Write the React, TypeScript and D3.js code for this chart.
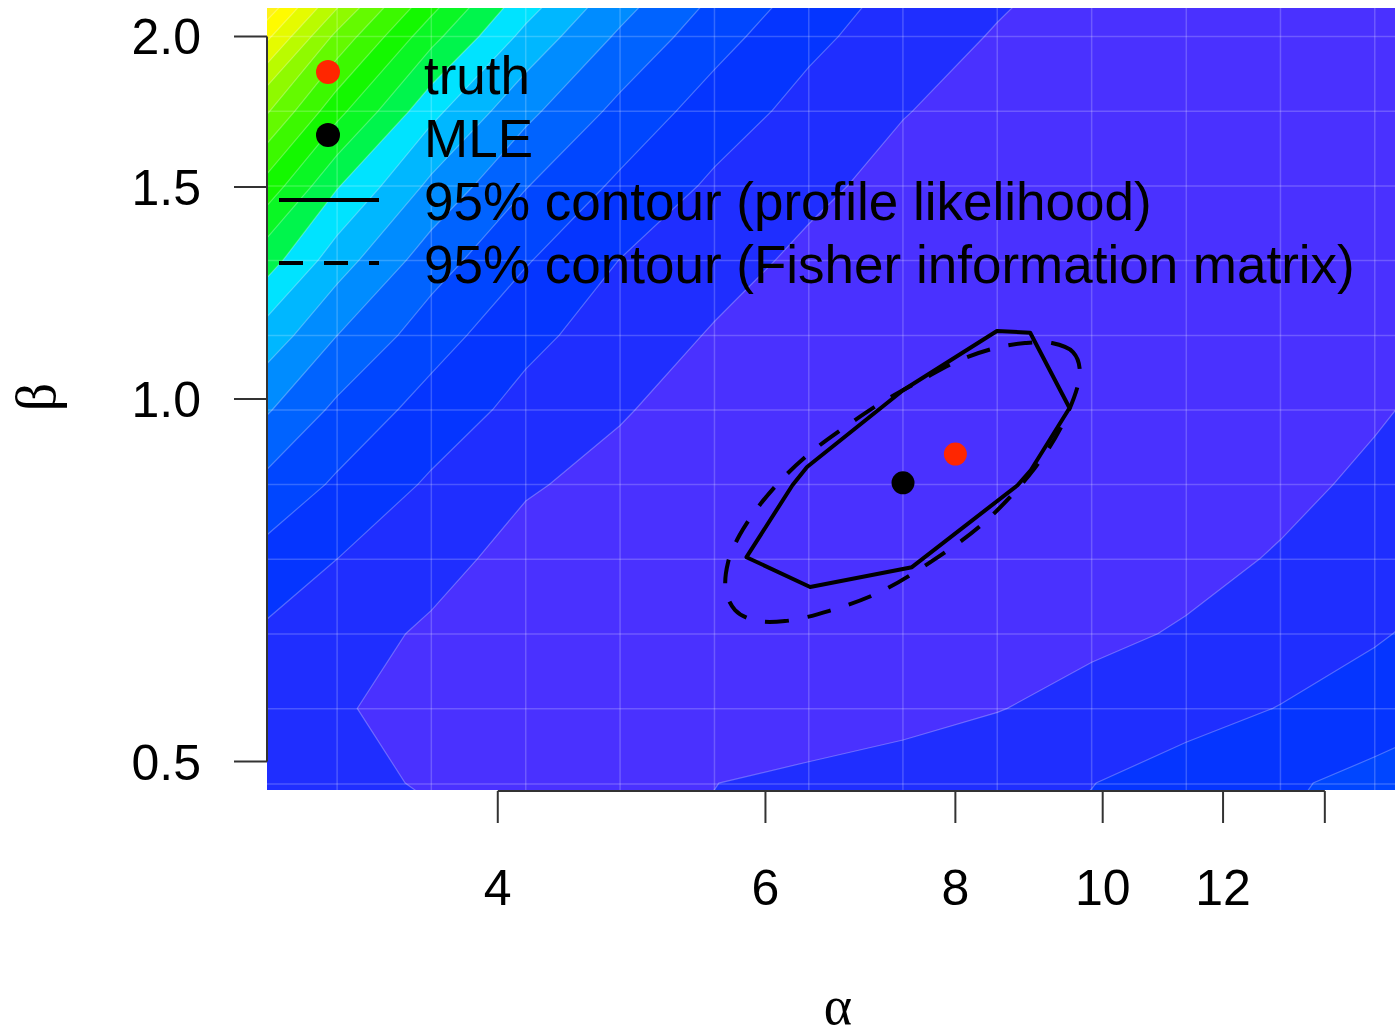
import React, { useEffect, useRef } from "react";
import * as d3 from "d3";

// log-spaced grid the surface was evaluated on
const alphaGrid = [2.718, 3.136, 3.617, 4.173, 4.814, 5.554, 6.407, 7.389, 8.524, 9.834, 11.35, 13.09, 15.1, 17.42];
const betaGrid = [2.307, 2.0, 1.734, 1.503, 1.303, 1.129, 0.979, 0.849, 0.736, 0.638, 0.553, 0.479, 0.416];

// contour level (in band units) at each grid node, rows = beta from top to bottom
const levelRows = [
  [21.8, 16.15, 11.8, 8.5, 6.2, 4.4, 3.06, 1.96, 1.34, 0.82, 0.54, 0.37, 0.32, 0.36],
  [17.44, 12.72, 9.32, 6.7, 4.83, 3.39, 2.23, 1.5, 0.92, 0.58, 0.36, 0.27, 0.28, 0.39],
  [14.08, 10.32, 7.28, 5.26, 3.72, 2.51, 1.67, 1.04, 0.64, 0.38, 0.24, 0.22, 0.3, 0.47],
  [11.52, 8.08, 5.77, 4.05, 2.8, 1.83, 1.21, 0.7, 0.41, 0.23, 0.17, 0.22, 0.37, 0.62],
  [9.14, 6.46, 4.47, 3.08, 1.98, 1.36, 0.8, 0.44, 0.22, 0.14, 0.155, 0.27, 0.5, 0.83],
  [7.18, 5.01, 3.45, 2.26, 1.53, 0.92, 0.51, 0.24, 0.11, 0.1, 0.19, 0.38, 0.67, 1.07],
  [5.56, 3.78, 2.57, 1.69, 1.08, 0.58, 0.26, 0.105, 0.065, 0.13, 0.29, 0.54, 0.9, 1.35],
  [4.13, 2.84, 1.86, 1.1, 0.7, 0.34, 0.13, 0.05, 0.1, 0.24, 0.46, 0.77, 1.18, 1.66],
  [2.95, 2.0, 1.33, 0.65, 0.46, 0.22, 0.12, 0.125, 0.24, 0.43, 0.72, 1.08, 1.53, 1.96],
  [2.05, 1.4, 0.85, 0.66, 0.41, 0.28, 0.25, 0.35, 0.52, 0.79, 1.09, 1.5, 1.91, 2.38],
  [1.75, 1.06, 0.78, 0.56, 0.445, 0.425, 0.5, 0.67, 0.96, 1.34, 1.66, 2.03, 2.41, 2.93],
  [1.42, 1.13, 0.95, 0.866, 0.88, 0.99, 1.2, 1.45, 1.7, 1.98, 2.41, 2.83, 3.32, 3.84],
  [1.55, 1.3, 1.15, 1.02, 1.0, 1.1, 1.35, 1.6, 1.9, 2.25, 2.7, 3.1, 3.6, 4.1],
];

// topo-like palette, one colour per band
const levelColors = [
  "#4A31FF", "#1F2EFF", "#0535FF", "#0046FF", "#0063FF", "#008CFF", "#00B7FF", "#00E3FF",
  "#00F54C", "#0AF724", "#14F800", "#3CF900", "#64FA00", "#8FFA00", "#BAFB00", "#E5FB00",
  "#FFFB00", "#FFF21A", "#FFE833", "#FFE04D", "#FFDC66", "#FFDB80", "#FFDC99",
];

const xTickValues = [4, 6, 8, 10, 12, 14];
const xTickLabels = ["4", "6", "8", "10", "12", ""];
const yTickValues = [0.5, 1.0, 1.5, 2.0];
const yTickLabels = ["0.5", "1.0", "1.5", "2.0"];

// 95% region from the profile likelihood
const profileAlpha = [5.83, 6.42, 7.49, 8.79, 8.97, 9.51, 8.96, 8.52, 7.39, 6.39, 6.25];
const profileBeta = [0.739, 0.698, 0.725, 0.848, 0.873, 0.983, 1.135, 1.139, 1.017, 0.878, 0.848];

// 95% region from the Fisher information matrix
const fisherAlpha = [9.66, 9.56, 9.26, 8.89, 8.49, 8.05, 7.6, 7.16, 6.77, 6.44, 6.18, 5.95, 5.77, 5.67, 5.65, 5.73, 5.9, 6.18, 6.61, 7.13, 7.69, 8.36, 9.02, 9.44];
const fisherBeta = [1.053, 1.094, 1.113, 1.113, 1.102, 1.077, 1.037, 0.994, 0.948, 0.905, 0.863, 0.817, 0.771, 0.732, 0.694, 0.668, 0.655, 0.654, 0.667, 0.691, 0.731, 0.79, 0.876, 0.961];

const truth = { alpha: 8.0, beta: 0.9 };
const mle = { alpha: 7.39, beta: 0.852 };

const legendLabels = ["truth", "MLE", "95% contour (profile likelihood)", "95% contour (Fisher information matrix)"];

const WIDTH = 1395;
const HEIGHT = 1035;
const plot = { left: 267, right: 1395, top: 8, bottom: 790 };
const SANS = "'Liberation Sans', Arial, Helvetica, sans-serif";
const SERIF = "'Liberation Serif', 'DejaVu Serif', serif";

const App = () => {
  const svgRef = useRef<SVGSVGElement>(null);

  useEffect(() => {
    const svg = d3.select(svgRef.current);
    svg.selectAll("*").remove();

    const x = d3.scaleLog().domain([2.82, 15.57]).range([plot.left, plot.right]);
    const y = d3.scaleLog().domain([0.4735, 2.112]).range([plot.bottom, plot.top]);

    const n = alphaGrid.length;
    const m = betaGrid.length;
    // d3.contours puts node i at i + 0.5
    const gx = d3.scaleLinear().domain([0.5, n - 0.5]).range([x(alphaGrid[0]), x(alphaGrid[n - 1])]);
    const gy = d3.scaleLinear().domain([0.5, m - 0.5]).range([y(betaGrid[0]), y(betaGrid[m - 1])]);
    const gridPath = d3.geoPath(
      d3.geoTransform({
        point(px, py) {
          this.stream.point(gx(px), gy(py));
        },
      })
    );

    const bands = d3
      .contours()
      .size([n, m])
      .thresholds(d3.range(1, levelColors.length))(levelRows.flat());

    svg
      .append("defs")
      .append("clipPath")
      .attr("id", "plot-clip")
      .append("rect")
      .attr("x", plot.left)
      .attr("y", plot.top)
      .attr("width", plot.right - plot.left)
      .attr("height", plot.bottom - plot.top);

    const g = svg.append("g").attr("clip-path", "url(#plot-clip)");

    g.append("rect")
      .attr("x", plot.left)
      .attr("y", plot.top)
      .attr("width", plot.right - plot.left)
      .attr("height", plot.bottom - plot.top)
      .attr("fill", levelColors[0]);

    g.selectAll("path.band")
      .data(bands)
      .join("path")
      .attr("class", "band")
      .attr("d", gridPath)
      .attr("fill", (d) => levelColors[d.value])
      .attr("stroke", "rgba(255,255,255,0.28)")
      .attr("stroke-width", 1.2);

    // faint seams along the grid cells
    g.selectAll("line.vseam")
      .data(alphaGrid)
      .join("line")
      .attr("x1", (d) => x(d))
      .attr("x2", (d) => x(d))
      .attr("y1", plot.top)
      .attr("y2", plot.bottom)
      .attr("stroke", "rgba(255,255,255,0.2)")
      .attr("stroke-width", 1.5);

    g.selectAll("line.hseam")
      .data(betaGrid)
      .join("line")
      .attr("x1", plot.left)
      .attr("x2", plot.right)
      .attr("y1", (d) => y(d))
      .attr("y2", (d) => y(d))
      .attr("stroke", "rgba(255,255,255,0.2)")
      .attr("stroke-width", 1.5);

    // confidence regions
    const line = d3
      .line<number>()
      .x((_, i) => x(profileAlpha[i]))
      .y((_, i) => y(profileBeta[i]))
      .curve(d3.curveLinearClosed);

    g.append("path")
      .attr("d", line(profileAlpha))
      .attr("fill", "none")
      .attr("stroke", "#000")
      .attr("stroke-width", 4)
      .attr("stroke-linejoin", "round");

    const ellipse = d3
      .line<number>()
      .x((_, i) => x(fisherAlpha[i]))
      .y((_, i) => y(fisherBeta[i]))
      .curve(d3.curveCatmullRomClosed.alpha(0.5));

    g.append("path")
      .attr("d", ellipse(fisherAlpha))
      .attr("fill", "none")
      .attr("stroke", "#000")
      .attr("stroke-width", 4)
      .attr("stroke-dasharray", "24 19");

    g.append("circle").attr("cx", x(truth.alpha)).attr("cy", y(truth.beta)).attr("r", 11.5).attr("fill", "#FF2600");
    g.append("circle").attr("cx", x(mle.alpha)).attr("cy", y(mle.beta)).attr("r", 11.5).attr("fill", "#000");

    // axes
    const axis = svg.append("g").attr("stroke", "#333").attr("stroke-width", 2);
    axis.append("line")
      .attr("x1", x(xTickValues[0]))
      .attr("x2", x(xTickValues[xTickValues.length - 1]))
      .attr("y1", plot.bottom + 1)
      .attr("y2", plot.bottom + 1);
    axis.selectAll("line.xt")
      .data(xTickValues)
      .join("line")
      .attr("x1", (d) => x(d))
      .attr("x2", (d) => x(d))
      .attr("y1", plot.bottom + 1)
      .attr("y2", plot.bottom + 33);
    axis.append("line")
      .attr("x1", plot.left)
      .attr("x2", plot.left)
      .attr("y1", y(yTickValues[0]))
      .attr("y2", y(yTickValues[yTickValues.length - 1]));
    axis.selectAll("line.yt")
      .data(yTickValues)
      .join("line")
      .attr("x1", plot.left - 33)
      .attr("x2", plot.left)
      .attr("y1", (d) => y(d))
      .attr("y2", (d) => y(d));

    svg.append("g")
      .selectAll("text")
      .data(xTickValues)
      .join("text")
      .attr("x", (d) => x(d))
      .attr("y", 905)
      .attr("text-anchor", "middle")
      .style("font-family", SANS)
      .style("font-size", "50px")
      .text((_, i) => xTickLabels[i]);

    svg.append("g")
      .selectAll("text")
      .data(yTickValues)
      .join("text")
      .attr("x", 201)
      .attr("y", (d) => y(d) + 18)
      .attr("text-anchor", "end")
      .style("font-family", SANS)
      .style("font-size", "50px")
      .text((_, i) => yTickLabels[i]);

    svg.append("text")
      .attr("x", 838)
      .attr("y", 1024)
      .attr("text-anchor", "middle")
      .style("font-family", SERIF)
      .style("font-size", "54px")
      .text("α");

    svg.append("text")
      .attr("transform", "translate(55,397) rotate(-90)")
      .attr("text-anchor", "middle")
      .style("font-family", SERIF)
      .style("font-size", "56px")
      .text("β");

    // legend (no box)
    const legend = svg.append("g");
    const rowY = [75, 138, 201, 264];
    legend.append("circle").attr("cx", 328).attr("cy", rowY[0] - 3).attr("r", 12).attr("fill", "#FF2600");
    legend.append("circle").attr("cx", 328).attr("cy", rowY[1] - 3).attr("r", 12).attr("fill", "#000");
    legend.append("line")
      .attr("x1", 279).attr("x2", 379)
      .attr("y1", rowY[2] - 1).attr("y2", rowY[2] - 1)
      .attr("stroke", "#000").attr("stroke-width", 4);
    legend.append("line")
      .attr("x1", 279).attr("x2", 379)
      .attr("y1", rowY[3] - 1).attr("y2", rowY[3] - 1)
      .attr("stroke", "#000").attr("stroke-width", 4)
      .attr("stroke-dasharray", "24 21");
    legend.selectAll("text")
      .data(legendLabels)
      .join("text")
      .attr("x", 424)
      .attr("y", (_, i) => rowY[i] + 19)
      .style("font-family", SANS)
      .style("font-size", "53px")
      .attr("fill", "#000")
      .text((d) => d);
  }, []);

  return (
    <svg
      ref={svgRef}
      width={WIDTH}
      height={HEIGHT}
      style={{ position: "absolute", left: 0, top: 0, background: "#fff" }}
    ></svg>
  );
};

export default App;
